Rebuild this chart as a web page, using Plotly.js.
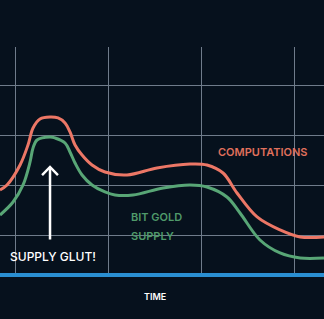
<!DOCTYPE html>
<html><head><meta charset="utf-8">
<script src="https://cdn.plot.ly/plotly-3.0.1.min.js"></script>
<style>html,body{margin:0;padding:0;background:#06111d;}#chart{width:324px;height:319px;}</style>
</head><body><div id="chart"></div>
<script>
// Time positions (grid units) and series values (arbitrary units)
const compTime = [-0.161,-0.086,0.054,0.139,0.193,0.268,0.375,0.461,0.536,0.589,0.643,0.718,0.825,0.964,1.200,1.521,1.875,2.057,2.229,2.379,2.594,2.840,3.055,3.311];
const computations = [0.915,1.014,1.412,1.809,2.147,2.326,2.366,2.346,2.247,2.068,1.809,1.610,1.412,1.272,1.213,1.352,1.431,1.412,1.252,0.855,0.378,0.119,-0.020,-0.020];
const supplyTime = [-0.161,-0.021,0.086,0.161,0.193,0.236,0.375,0.429,0.536,0.589,0.643,0.718,0.825,0.964,1.071,1.264,1.586,1.875,2.057,2.271,2.411,2.625,2.840,3.055,3.311];
const bitGoldSupply = [0.417,0.676,1.014,1.471,1.750,1.909,1.968,1.948,1.849,1.670,1.451,1.213,1.014,0.875,0.815,0.815,0.954,1.014,0.974,0.775,0.457,-0.080,-0.338,-0.437,-0.437];
const labels = {comp: 'COMPUTATIONS', supply1: 'BIT GOLD', supply2: 'SUPPLY', glut: 'SUPPLY GLUT!', xTitle: 'TIME'};
const glutArrow = {x: 0.375, yHead: 1.372, yTail: -0.10};

const font = 'Inter, "Open Sans", sans-serif';
const traces = [
  {x: compTime, y: computations, mode: 'lines', line: {color: '#ec7766', width: 3, shape: 'spline', smoothing: 1}, hoverinfo: 'skip'},
  {x: supplyTime, y: bitGoldSupply, mode: 'lines', line: {color: '#58a676', width: 3, shape: 'spline', smoothing: 1}, hoverinfo: 'skip'}
];
const layout = {
  width: 324, height: 319,
  margin: {l: 0, r: 0, t: 47, b: 46},
  paper_bgcolor: '#06111d', plot_bgcolor: '#06111d',
  showlegend: false,
  xaxis: {range: [-0.161, 3.311], dtick: 1, tick0: 0, showgrid: true, gridcolor: '#6f7c8b', gridwidth: 1,
          zeroline: false, showticklabels: false, ticks: '', showline: true, linecolor: '#2a8fd2', linewidth: 4},
  yaxis: {range: [-0.736, 3.757], dtick: 1, tick0: 0, showgrid: true, gridcolor: '#6f7c8b', gridwidth: 1,
          zeroline: false, showticklabels: false, ticks: '', showline: false},
  annotations: [
    {xref: 'paper', yref: 'paper', x: 0.812, y: 0.535, xanchor: 'center', yanchor: 'middle', text: labels.comp, showarrow: false,
     font: {family: font, size: 11, color: '#e0705c', weight: 600}},
    {xref: 'paper', yref: 'paper', x: 0.398, y: 0.248, xanchor: 'left', yanchor: 'middle', text: labels.supply1, showarrow: false,
     font: {family: font, size: 11, color: '#4f9a6a', weight: 600}},
    {xref: 'paper', yref: 'paper', x: 0.398, y: 0.164, xanchor: 'left', yanchor: 'middle', text: labels.supply2, showarrow: false,
     font: {family: font, size: 11, color: '#4f9a6a', weight: 600}},
    {xref: 'paper', yref: 'paper', x: 0.026, y: 0.075, xanchor: 'left', yanchor: 'middle', text: labels.glut, showarrow: false,
     font: {family: font, size: 12, color: '#ffffff', weight: 500}},
    {xref: 'paper', yref: 'paper', x: 0.478, y: -0.102, xanchor: 'center', yanchor: 'middle', text: labels.xTitle, showarrow: false,
     font: {family: font, size: 9, color: '#ffffff', weight: 600}},
    {xref: 'x', yref: 'y', axref: 'x', ayref: 'y', x: glutArrow.x, y: glutArrow.yHead, ax: glutArrow.x, ay: glutArrow.yTail,
     text: '', showarrow: true, arrowhead: 0, arrowwidth: 2.5, arrowcolor: '#ffffff', standoff: 0}
  ],
  shapes: [
    {type: 'path', xref: 'x', yref: 'y', line: {color: '#ffffff', width: 2.5},
     path: 'M ' + (glutArrow.x - 0.085) + ' ' + (glutArrow.yHead - 0.16) + ' L ' + glutArrow.x + ' ' + glutArrow.yHead + ' L ' + (glutArrow.x + 0.085) + ' ' + (glutArrow.yHead - 0.16)}
  ]
};
Plotly.newPlot('chart', traces, layout, {staticPlot: true, displayModeBar: false});
</script></body></html>
